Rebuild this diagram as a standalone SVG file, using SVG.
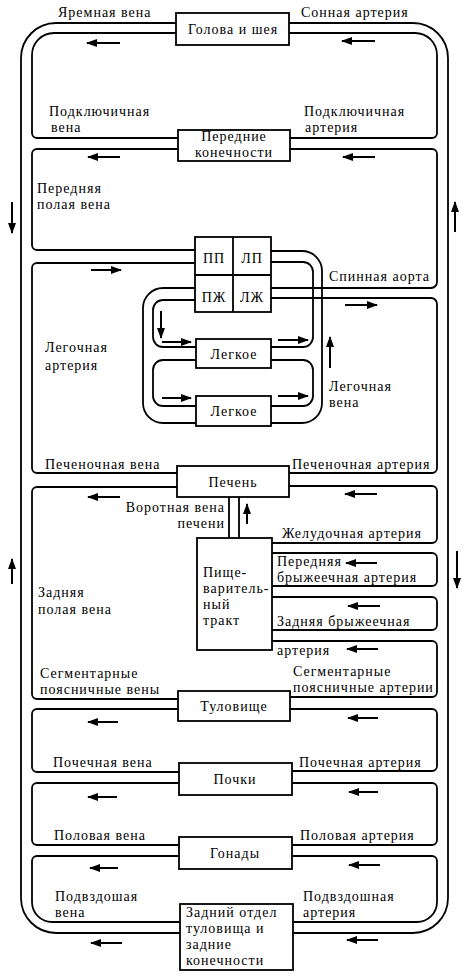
<svg xmlns="http://www.w3.org/2000/svg" width="467" height="978" viewBox="0 0 467 978">
<style>
.w{fill:none;stroke:#000;stroke-width:1.8}
.a{stroke:#000;stroke-width:2;marker-end:url(#ah)}
.b{fill:#fff;stroke:#000;stroke-width:1.8}
text{font-family:"Liberation Serif","DejaVu Serif",serif;font-size:14px;letter-spacing:1px;fill:#000}
.c{text-anchor:middle}
.r{text-anchor:end}
</style>
<defs>
<marker id="ah" markerUnits="userSpaceOnUse" markerWidth="11" markerHeight="8" refX="10" refY="4" orient="auto">
<path d="M0,0 L11,4 L0,8 z" fill="#000"/>
</marker>
</defs>
<rect width="467" height="978" fill="#fff"/>
<g id="connectors">
<path class="w" d="M176,23 H56 A35,35 0 0 0 21,58 V898 A35,35 0 0 0 56,933 H180"/>
<path class="w" d="M289,23 H413 A35,35 0 0 1 448,58 V898 A35,35 0 0 1 413,933 H293"/>
<path class="w" d="M178,138 H37 A5,5 0 0 1 32,133 V55 A22,22 0 0 1 54,33 H176"/>
<path class="w" d="M289,33 H415 A22,22 0 0 1 437,55 V133 A5,5 0 0 1 432,138 H290"/>
<path class="w" d="M178,149 H37 A5,5 0 0 0 32,154 V245 A5,5 0 0 0 37,250 H195"/>
<path class="w" d="M290,149 H432 A5,5 0 0 1 437,154 V282 A6,6 0 0 1 431,288 H271"/>
<path class="w" d="M195,263 H37 A5,5 0 0 0 32,268 V468 A5,5 0 0 0 37,473 H177"/>
<path class="w" d="M271,298 H431 A6,6 0 0 1 437,304 V468 A5,5 0 0 1 432,473 H289"/>
<path class="w" d="M177,487 H37 A5,5 0 0 0 32,492 V694 A5,5 0 0 0 37,699 H178"/>
<path class="w" d="M289,486 H432 A5,5 0 0 1 437,491 V538 A5,5 0 0 1 432,543 H272"/>
<path class="w" d="M272,553 H432 A5,5 0 0 1 437,558 V581 A5,5 0 0 1 432,586 H272"/>
<path class="w" d="M272,597 H432 A5,5 0 0 1 437,602 V625 A5,5 0 0 1 432,630 H272"/>
<path class="w" d="M272,641 H432 A5,5 0 0 1 437,646 V692 A5,5 0 0 1 432,697 H290"/>
<path class="w" d="M229,497 V538 M239,497 V538"/>
<path class="w" d="M178,709 H37 A5,5 0 0 0 32,714 V767 A5,5 0 0 0 37,772 H179"/>
<path class="w" d="M290,709 H432 A5,5 0 0 1 437,714 V766 A5,5 0 0 1 432,771 H292"/>
<path class="w" d="M179,783 H37 A5,5 0 0 0 32,788 V840 A5,5 0 0 0 37,845 H179"/>
<path class="w" d="M292,783 H432 A5,5 0 0 1 437,788 V840 A5,5 0 0 1 432,845 H292"/>
<path class="w" d="M179,856 H37 A5,5 0 0 0 32,861 V902 A20,20 0 0 0 52,922 H180"/>
<path class="w" d="M292,856 H432 A5,5 0 0 1 437,861 V902 A20,20 0 0 1 417,922 H293"/>
<path class="w" d="M195,288 H163 A20,20 0 0 0 143,308 V403 A20,20 0 0 0 163,423 H196"/>
<path class="w" d="M271,251 H302 A20,20 0 0 1 322,271 V403 A20,20 0 0 1 302,423 H271"/>
<path class="w" d="M195,300 H163 A10,10 0 0 0 153,310 V337 A10,10 0 0 0 163,347 H196"/>
<path class="w" d="M271,262 H303 A10,10 0 0 1 313,272 V337 A10,10 0 0 1 303,347 H271"/>
<path class="w" d="M196,360 H163 A10,10 0 0 0 153,370 V396 A10,10 0 0 0 163,406 H196"/>
<path class="w" d="M271,360 H303 A10,10 0 0 1 313,370 V396 A10,10 0 0 1 303,406 H271"/>
<line class="a" x1="120" y1="43" x2="87" y2="43"/>
<line class="a" x1="375" y1="41" x2="342" y2="41"/>
<line class="a" x1="120" y1="157" x2="88" y2="157"/>
<line class="a" x1="375" y1="157" x2="343" y2="157"/>
<line class="a" x1="91" y1="270" x2="121" y2="270"/>
<line class="a" x1="345" y1="305" x2="377" y2="305"/>
<line class="a" x1="216" y1="264" x2="216" y2="286"/>
<line class="a" x1="251" y1="264" x2="251" y2="286"/>
<line class="a" x1="161" y1="311" x2="161" y2="338"/>
<line class="a" x1="162" y1="342" x2="191" y2="342"/>
<line class="a" x1="278" y1="340" x2="308" y2="340"/>
<line class="a" x1="162" y1="398" x2="191" y2="398"/>
<line class="a" x1="278" y1="396" x2="308" y2="396"/>
<line class="a" x1="330" y1="368" x2="330" y2="337"/>
<line class="a" x1="12" y1="202" x2="12" y2="233"/>
<line class="a" x1="455" y1="232" x2="455" y2="202"/>
<line class="a" x1="120" y1="497" x2="88" y2="497"/>
<line class="a" x1="377" y1="494" x2="345" y2="494"/>
<line class="a" x1="247" y1="524" x2="247" y2="504"/>
<line class="a" x1="377" y1="563" x2="346" y2="563"/>
<line class="a" x1="380" y1="606" x2="348" y2="606"/>
<line class="a" x1="378" y1="649" x2="347" y2="649"/>
<line class="a" x1="12" y1="584" x2="12" y2="559"/>
<line class="a" x1="457" y1="551" x2="457" y2="588"/>
<line class="a" x1="118" y1="722" x2="88" y2="722"/>
<line class="a" x1="378" y1="718" x2="348" y2="718"/>
<line class="a" x1="117" y1="797" x2="88" y2="797"/>
<line class="a" x1="378" y1="792" x2="349" y2="792"/>
<line class="a" x1="118" y1="868" x2="90" y2="868"/>
<line class="a" x1="380" y1="865" x2="349" y2="865"/>
<line class="a" x1="122" y1="943" x2="91" y2="943"/>
<line class="a" x1="378" y1="940" x2="347" y2="940"/>
</g>
<g id="labels">
<text x="58" y="17">Яремная вена</text>
<text x="301" y="17">Сонная артерия</text>
<text x="49" y="116">Подключичная</text>
<text x="51" y="132">вена</text>
<text x="304" y="116">Подключичная</text>
<text x="305" y="132">артерия</text>
<text x="37" y="193">Передняя</text>
<text x="37" y="209">полая вена</text>
<text x="329" y="281">Спинная аорта</text>
<text x="45" y="352">Легочная</text>
<text x="45" y="370">артерия</text>
<text x="329" y="391">Легочная</text>
<text x="329" y="407">вена</text>
<text x="45" y="469">Печеночная вена</text>
<text x="292" y="469">Печеночная артерия</text>
<text class="r" x="225" y="512">Воротная вена</text>
<text class="r" x="225" y="528">печени</text>
<text x="282" y="538">Желудочная артерия</text>
<text x="277" y="566">Передняя</text>
<text x="277" y="582">брыжеечная артерия</text>
<text x="277" y="626">Задняя брыжеечная</text>
<text x="277" y="655">артерия</text>
<text x="38" y="597">Задняя</text>
<text x="38" y="614">полая вена</text>
<text x="40" y="678">Сегментарные</text>
<text x="40" y="694">поясничные вены</text>
<text x="293" y="676">Сегментарные</text>
<text x="293" y="692">поясничные артерии</text>
<text x="53" y="767">Почечная вена</text>
<text x="299" y="767">Почечная артерия</text>
<text x="54" y="840">Половая вена</text>
<text x="300" y="840">Половая артерия</text>
<text x="55" y="901">Подвздошая</text>
<text x="55" y="917">вена</text>
<text x="303" y="901">Подвздошная</text>
<text x="303" y="917">артерия</text>
</g>
<g id="head"><rect class="b" x="176" y="13" width="113" height="32"/><text class="c" x="233" y="34">Голова и шея</text></g>
<g id="forelimbs"><rect class="b" x="178" y="130" width="112" height="31"/><text class="c" x="234" y="141">Передние</text><text class="c" x="234" y="157">конечности</text></g>
<g id="heart"><rect class="b" x="195" y="237" width="76" height="75"/><path class="w" d="M233,237 V312 M195,275 H271"/>
<text class="c" x="214" y="263">ПП</text><text class="c" x="252" y="263">ЛП</text><text class="c" x="214" y="302">ПЖ</text><text class="c" x="252" y="302">ЛЖ</text></g>
<g id="lung1"><rect class="b" x="196" y="339" width="75" height="29"/><text class="c" x="234" y="359">Легкое</text></g>
<g id="lung2"><rect class="b" x="196" y="396" width="75" height="30"/><text class="c" x="234" y="416">Легкое</text></g>
<g id="liver"><rect class="b" x="177" y="466" width="112" height="31"/><text class="c" x="233" y="487">Печень</text></g>
<g id="gut"><rect class="b" x="197" y="538" width="75" height="112"/><text x="203" y="577">Пище-</text><text x="203" y="593">варитель-</text><text x="203" y="609">ный</text><text x="203" y="625">тракт</text></g>
<g id="trunk"><rect class="b" x="178" y="691" width="112" height="30"/><text class="c" x="234" y="711">Туловище</text></g>
<g id="kidneys"><rect class="b" x="179" y="763" width="113" height="32"/><text class="c" x="235" y="784">Почки</text></g>
<g id="gonads"><rect class="b" x="179" y="837" width="113" height="32"/><text class="c" x="235" y="858">Гонады</text></g>
<g id="hind"><rect class="b" x="180" y="904" width="113" height="66"/><text x="186" y="917">Задний отдел</text><text x="186" y="933">туловища и</text><text x="186" y="949">задние</text><text x="186" y="965">конечности</text></g>
</svg>
